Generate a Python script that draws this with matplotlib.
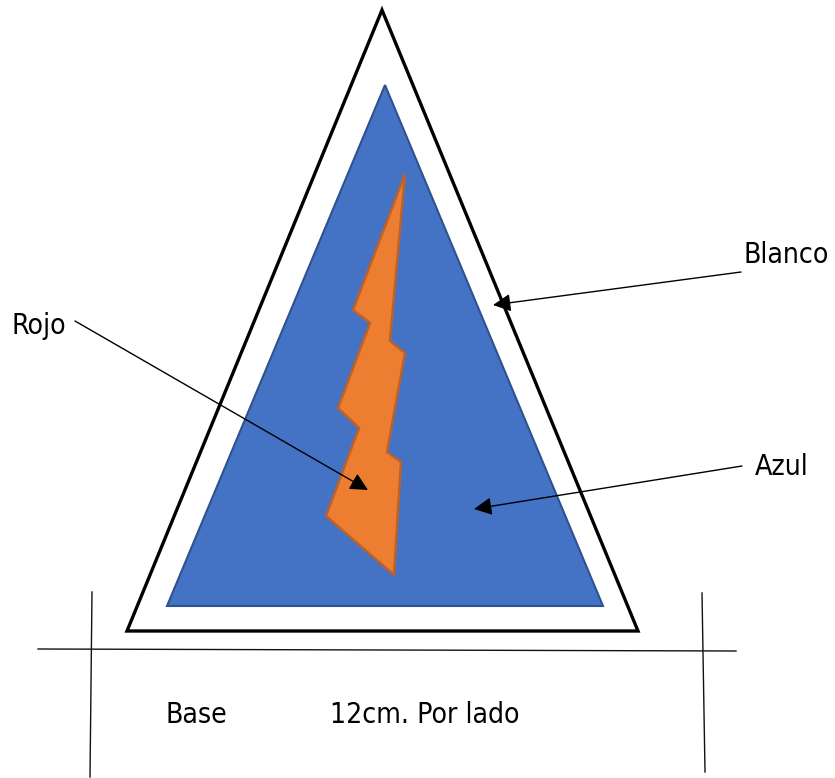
import matplotlib
matplotlib.use("Agg")
import matplotlib.pyplot as plt
from matplotlib.patches import Polygon

# shape outlines in pixels
outer_x = [382, 127, 638]
outer_y = [10, 631, 631]
blue_x = [385, 167, 603]
blue_y = [85, 606, 606]
bolt_x = [405, 353, 370, 338, 359, 326, 394, 401, 387, 405, 390]
bolt_y = [174, 310, 323, 408, 428, 516, 575, 462, 452, 353, 341]

# thin dimension lines
dim_lines = [
    ([92, 90], [592, 777]),
    ([702, 705], [593, 772]),
    ([38, 736], [649, 651]),
]

# callouts: text, text position, line start, arrow tip
labels = ["Blanco", "Azul", "Rojo", "Base", "12cm. Por lado"]
label_x = [744, 755, 12, 166, 330]
label_y = [263, 475, 334, 723, 723]
arrow_from = [(741, 272), (742, 466), (75, 321)]
arrow_to = [(493, 305), (474, 509), (368, 490)]

fig = plt.figure(figsize=(8.35, 7.78), dpi=100)
ax = fig.add_axes([0, 0, 1, 1])
ax.set_xlim(0, 835)
ax.set_ylim(778, 0)
ax.axis("off")

ax.add_patch(Polygon(list(zip(outer_x, outer_y)), closed=True, fc="white",
                     ec="black", lw=2.4, joinstyle="miter"))
ax.add_patch(Polygon(list(zip(blue_x, blue_y)), closed=True, fc="#4472C4",
                     ec="#2F528F", lw=1.5, joinstyle="miter"))
ax.add_patch(Polygon(list(zip(bolt_x, bolt_y)), closed=True, fc="#ED7D31",
                     ec="#B9622B", lw=1.8, joinstyle="miter"))

for xs, ys in dim_lines:
    ax.plot(xs, ys, color="#111111", lw=1.0)

for start, tip in zip(arrow_from, arrow_to):
    ax.annotate("", xy=tip, xytext=start,
                arrowprops=dict(arrowstyle="-|>,head_length=1.0,head_width=0.5",
                                mutation_scale=10.8, color="black", lw=1.0,
                                shrinkA=0, shrinkB=0))

for text, x, y in zip(labels, label_x, label_y):
    ax.text(x, y, text, fontsize=20.3, family="DejaVu Sans", stretch="condensed",
            va="baseline", ha="left", color="black")

fig.savefig("out.png", dpi=100)
